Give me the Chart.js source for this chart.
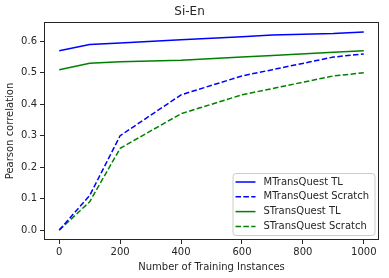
<!DOCTYPE html>
<html>
<head>
<meta charset="utf-8">
<script src="https://cdn.jsdelivr.net/npm/chart.js@4/dist/chart.umd.min.js"></script>
<style>
  html, body { margin: 0; padding: 0; background: #fff; }
  #wrap { width: 389px; height: 278px; }
</style>
</head>
<body>
<div id="wrap"><canvas id="chart" width="389" height="278"></canvas></div>
<script>
// Training instances (x)
const instances = [0, 100, 200, 400, 600, 700, 900, 1000];

// Pearson correlation per model
const mtqTL = [0.57, 0.59, 0.595, 0.605, 0.615, 0.62, 0.625, 0.63];
const mtqScratch = [0.0, 0.11, 0.30, 0.43, 0.49, 0.51, 0.55, 0.56];
const stqTL = [0.51, 0.53, 0.535, 0.54, 0.55, 0.555, 0.565, 0.57];
const stqScratch = [0.0, 0.09, 0.26, 0.37, 0.43, 0.45, 0.49, 0.50];

const seriesLabels = ['MTransQuest TL', 'MTransQuest Scratch', 'STransQuest TL', 'STransQuest Scratch'];

// Tick labels
const xTicks = [0, 200, 400, 600, 800, 1000];
const yTicks = [0.0, 0.1, 0.2, 0.3, 0.4, 0.5, 0.6];

const FONT = 'DejaVu Sans';
const BLUE = '#0000ff';
const GREEN = '#008000';
const DASH = [5.5, 2.4];

function pts(ys) {
    return instances.map((x, i) => ({ x: x, y: ys[i] }));
}

function makeSet(label, ys, color, dashed) {
    return {
        label: label,
        data: pts(ys),
        borderColor: color,
        backgroundColor: color,
        borderWidth: 1.5,
        borderDash: dashed ? DASH : [],
        pointRadius: 0,
        fill: false,
        tension: 0
    };
}

// Draws the full axes box like matplotlib
const frameBox = {
    id: 'frameBox',
    afterDraw(chart) {
        const a = chart.chartArea;
        const ctx = chart.ctx;
        ctx.save();
        ctx.strokeStyle = '#262626';
        ctx.lineWidth = 1;
        ctx.strokeRect(Math.round(a.left) + 0.5, Math.round(a.top) + 0.5,
            Math.round(a.right - a.left) - 1, Math.round(a.bottom - a.top) - 1);
        ctx.restore();
    }
};

// Legend inside the lower right corner
const innerLegend = {
    id: 'innerLegend',
    afterDraw(chart) {
        const ctx = chart.ctx;
        const a = chart.chartArea;
        const w = 142, h = 62;
        const x0 = a.right - w - 4.5, y0 = a.bottom - h - 5;
        ctx.save();
        ctx.fillStyle = 'rgba(255,255,255,0.8)';
        ctx.strokeStyle = '#cccccc';
        ctx.lineWidth = 1;
        ctx.beginPath();
        ctx.roundRect(x0 + 0.5, y0 + 0.5, w, h, 3);
        ctx.fill();
        ctx.stroke();
        ctx.font = '10px ' + FONT;
        ctx.textBaseline = 'middle';
        chart.data.datasets.forEach((ds, i) => {
            const y = y0 + 9 + i * 14.8;
            ctx.strokeStyle = ds.borderColor;
            ctx.lineWidth = 1.5;
            ctx.setLineDash(ds.borderDash);
            ctx.beginPath();
            ctx.moveTo(x0 + 3, y);
            ctx.lineTo(x0 + 23, y);
            ctx.stroke();
            ctx.setLineDash([]);
            ctx.fillStyle = '#262626';
            ctx.fillText(ds.label, x0 + 31, y);
        });
        ctx.restore();
    }
};

new Chart(document.getElementById('chart'), {
    type: 'line',
    data: {
        datasets: [
            makeSet(seriesLabels[0], mtqTL, BLUE, false),
            makeSet(seriesLabels[1], mtqScratch, BLUE, true),
            makeSet(seriesLabels[2], stqTL, GREEN, false),
            makeSet(seriesLabels[3], stqScratch, GREEN, true)
        ]
    },
    options: {
        responsive: false,
        animation: false,
        layout: { padding: { left: 0, right: 10, top: 0, bottom: 0 } },
        plugins: {
            legend: { display: false },
            tooltip: { enabled: false },
            title: {
                display: true,
                text: 'Si-En',
                color: '#262626',
                font: { family: FONT, size: 12, weight: 'normal' },
                padding: { top: 5, bottom: 2.6 }
            }
        },
        scales: {
            x: {
                type: 'linear',
                min: -50,
                max: 1050,
                afterBuildTicks(scale) {
                    scale.ticks = xTicks.map(v => ({ value: v }));
                },
                afterFit(scale) { scale.height = 38; },
                ticks: {
                    color: '#262626',
                    font: { family: FONT, size: 10 },
                    padding: 2,
                    maxRotation: 0,
                    callback: v => String(v)
                },
                grid: { drawOnChartArea: false, drawTicks: true, tickLength: 4, color: '#262626' },
                border: { display: false },
                title: {
                    display: true,
                    text: 'Number of Training Instances',
                    color: '#262626',
                    font: { family: FONT, size: 10 },
                    padding: { top: 0, bottom: 5 }
                }
            },
            y: {
                min: -0.0315,
                max: 0.6615,
                afterBuildTicks(scale) {
                    scale.ticks = yTicks.map(v => ({ value: v }));
                },
                afterFit(scale) { scale.width = 44; },
                ticks: {
                    color: '#262626',
                    font: { family: FONT, size: 10 },
                    padding: 3,
                    callback: v => v.toFixed(1)
                },
                grid: { drawOnChartArea: false, drawTicks: true, tickLength: 4, color: '#262626' },
                border: { display: false },
                title: {
                    display: true,
                    text: 'Pearson correlation',
                    color: '#262626',
                    font: { family: FONT, size: 10 },
                    padding: { top: 4, bottom: 0 }
                }
            }
        }
    },
    plugins: [frameBox, innerLegend]
});
</script>
</body>
</html>
